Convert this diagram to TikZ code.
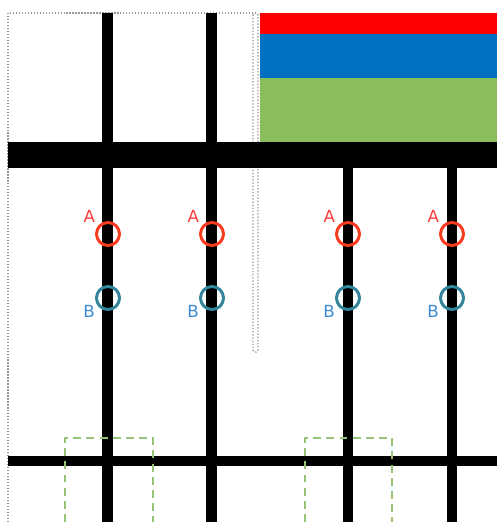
\documentclass[tikz,border=0pt]{standalone}
\usepackage{fontspec}
\setsansfont{DejaVu Sans}
\usepackage{tikz}
\usetikzlibrary{positioning}
\definecolor{bandred}{RGB}{255,0,0}
\definecolor{bandblue}{RGB}{0,112,192}
\definecolor{bandgreen}{RGB}{137,190,90}
\definecolor{ringred}{RGB}{250,60,30}
\definecolor{ringteal}{RGB}{49,133,156}
\definecolor{tagred}{RGB}{255,60,60}
\definecolor{tagblue}{RGB}{60,140,210}
\definecolor{guidegreen}{RGB}{150,195,120}
\colorlet{frame}{gray!80}

\begin{document}
\begin{tikzpicture}[x=0.02cm, y=-0.02cm,
    ring/.style={circle, draw, line width=1.7pt, inner sep=0pt, minimum size=0.46cm},
    tag/.style={inner sep=0pt, font=\sffamily\fontsize{9.5}{10}\selectfont}]

    \useasboundingbox (0,0) rectangle (497,522);

    % colour bands
    \fill[bandred] (260,13) rectangle (497,34);
    \fill[bandblue] (260,34) rectangle (497,78);
    \fill[bandgreen] (260,78) rectangle (497,142);

    \draw[frame, densely dotted, line width=0.7pt] (8,522) -- (8,13) -- (255,13);
    \draw[frame, densely dotted, line width=0.8pt, rounded corners=1pt] (253,13) rectangle (258,352);

    % black bars
    \fill (8,142) rectangle (497,168);
    \fill (8,456) rectangle (497,466);
    \foreach \x in {108,212} \fill (\x-5.5,13) rectangle (\x+5.5,522);
    \foreach \x in {348,452} \fill (\x-5,168) rectangle (\x+5,522);

    % dashed guides
    \draw[guidegreen, dashed, line width=0.85pt, dash pattern=on 4.5pt off 3pt]
        (65,522) -- (65,438) -- (153,438) -- (153,522);
    \draw[guidegreen, dashed, line width=0.85pt, dash pattern=on 4.5pt off 3pt]
        (305,522) -- (305,438) -- (392,438) -- (392,522);

    \foreach \x [count=\i] in {108,212,348,452} {
        \node[ring, ringred] (A\i) at (\x,234) {};
        \node[tag, tagred, above left=1pt and 2pt of A\i] {A};
        \node[ring, ringteal] (B\i) at (\x,298) {};
        \node[tag, tagblue, below left=-1pt and 2pt of B\i] {B};
    }

\end{tikzpicture}
\end{document}
